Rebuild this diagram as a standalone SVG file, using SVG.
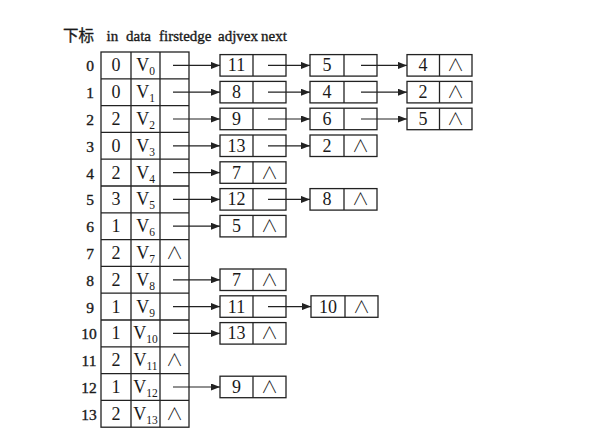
<svg xmlns="http://www.w3.org/2000/svg" width="604" height="446" viewBox="0 0 604 446">
<style>
  .t{font-family:"Liberation Serif","Noto Sans CJK SC",serif;fill:#1a1a1a}
  .hd{font-size:15px;stroke:#1a1a1a;stroke-width:0.35}
  .cn{font-size:15.5px}
  .ix{font-size:15.5px;stroke:#1a1a1a;stroke-width:0.35;text-anchor:middle}
  .v{font-size:18px;text-anchor:middle}
  .sub{font-size:11.5px}
  .nl{font-family:"Noto Sans CJK SC","DejaVu Sans",sans-serif;font-size:17px;font-weight:300;text-anchor:middle;fill:#1a1a1a}
  .box{fill:none;stroke:#222;stroke-width:1.3}
  .ln{stroke:#222;stroke-width:1.3;fill:none}
  .arr{stroke:#222;stroke-width:1.2;fill:none;marker-end:url(#ah)}
</style>
<defs>
  <marker id="ah" markerUnits="userSpaceOnUse" markerWidth="9" markerHeight="7" refX="9" refY="3.5" orient="auto">
    <path d="M0,0 L9,3.5 L0,7 z" fill="#222"/>
  </marker>
</defs>
<rect width="604" height="446" fill="#fff"/>

<g id="header" class="t hd">
  <text class="cn" x="63" y="41">下标</text>
  <text x="106.5" y="41">in</text>
  <text x="126" y="41">data</text>
  <text x="159" y="41">firstedge</text>
  <text x="218" y="41">adjvex</text>
  <text x="261" y="41">next</text>
</g>

<g id="table">
  <rect class="box" x="101" y="52" width="88" height="375.2"/>
  <path class="ln" d="M131,52V427.2M160,52V427.2M101,78.8H189M101,105.6H189M101,132.4H189M101,159.2H189M101,186H189M101,212.8H189M101,239.6H189M101,266.4H189M101,293.2H189M101,320H189M101,346.8H189M101,373.6H189M101,400.4H189"/>
</g>

<g id="v0" class="t"><text class="ix" x="90" y="71.4">0</text><text class="v" x="116" y="71.4">0</text><text class="v" x="145.5" y="71.4">V<tspan class="sub" dy="4">0</tspan></text></g>
<g id="v1" class="t"><text class="ix" x="90" y="98.2">1</text><text class="v" x="116" y="98.2">0</text><text class="v" x="145.5" y="98.2">V<tspan class="sub" dy="4">1</tspan></text></g>
<g id="v2" class="t"><text class="ix" x="90" y="125">2</text><text class="v" x="116" y="125">2</text><text class="v" x="145.5" y="125">V<tspan class="sub" dy="4">2</tspan></text></g>
<g id="v3" class="t"><text class="ix" x="90" y="151.8">3</text><text class="v" x="116" y="151.8">0</text><text class="v" x="145.5" y="151.8">V<tspan class="sub" dy="4">3</tspan></text></g>
<g id="v4" class="t"><text class="ix" x="90" y="178.6">4</text><text class="v" x="116" y="178.6">2</text><text class="v" x="145.5" y="178.6">V<tspan class="sub" dy="4">4</tspan></text></g>
<g id="v5" class="t"><text class="ix" x="90" y="205.4">5</text><text class="v" x="116" y="205.4">3</text><text class="v" x="145.5" y="205.4">V<tspan class="sub" dy="4">5</tspan></text></g>
<g id="v6" class="t"><text class="ix" x="90" y="232.2">6</text><text class="v" x="116" y="232.2">1</text><text class="v" x="145.5" y="232.2">V<tspan class="sub" dy="4">6</tspan></text></g>
<g id="v7" class="t"><text class="ix" x="90" y="259">7</text><text class="v" x="116" y="259">2</text><text class="v" x="145.5" y="259">V<tspan class="sub" dy="4">7</tspan></text><text class="nl" x="174.5" y="259">∧</text></g>
<g id="v8" class="t"><text class="ix" x="90" y="285.8">8</text><text class="v" x="116" y="285.8">2</text><text class="v" x="145.5" y="285.8">V<tspan class="sub" dy="4">8</tspan></text></g>
<g id="v9" class="t"><text class="ix" x="90" y="312.6">9</text><text class="v" x="116" y="312.6">1</text><text class="v" x="145.5" y="312.6">V<tspan class="sub" dy="4">9</tspan></text></g>
<g id="v10" class="t"><text class="ix" x="89" y="339.4">10</text><text class="v" x="116" y="339.4">1</text><text class="v" x="145.5" y="339.4">V<tspan class="sub" dy="4">10</tspan></text></g>
<g id="v11" class="t"><text class="ix" x="89" y="366.2">11</text><text class="v" x="116" y="366.2">2</text><text class="v" x="145.5" y="366.2">V<tspan class="sub" dy="4">11</tspan></text><text class="nl" x="174.5" y="366.2">∧</text></g>
<g id="v12" class="t"><text class="ix" x="89" y="393">12</text><text class="v" x="116" y="393">1</text><text class="v" x="145.5" y="393">V<tspan class="sub" dy="4">12</tspan></text></g>
<g id="v13" class="t"><text class="ix" x="89" y="419.8">13</text><text class="v" x="116" y="419.8">2</text><text class="v" x="145.5" y="419.8">V<tspan class="sub" dy="4">13</tspan></text><text class="nl" x="174.5" y="419.8">∧</text></g>

<g id="e0a"><rect class="box" x="220" y="54.6" width="66" height="21.5"/><path class="ln" d="M253,54.6v21.5"/><text class="t v" x="236.5" y="71.4">11</text></g>
<g id="e0b"><rect class="box" x="310" y="54.6" width="67" height="21.5"/><path class="ln" d="M344,54.6v21.5"/><text class="t v" x="327" y="71.4">5</text></g>
<g id="e0c"><rect class="box" x="407" y="54.6" width="65" height="21.5"/><path class="ln" d="M439.5,54.6v21.5"/><text class="t v" x="423" y="71.4">4</text><text class="nl" x="455.5" y="71.4">∧</text></g>

<g id="e1a"><rect class="box" x="220" y="81.4" width="66" height="21.5"/><path class="ln" d="M253,81.4v21.5"/><text class="t v" x="236.5" y="98.2">8</text></g>
<g id="e1b"><rect class="box" x="310" y="81.4" width="67" height="21.5"/><path class="ln" d="M344,81.4v21.5"/><text class="t v" x="327" y="98.2">4</text></g>
<g id="e1c"><rect class="box" x="407" y="81.4" width="65" height="21.5"/><path class="ln" d="M439.5,81.4v21.5"/><text class="t v" x="423" y="98.2">2</text><text class="nl" x="455.5" y="98.2">∧</text></g>

<g id="e2a"><rect class="box" x="220" y="108.2" width="66" height="21.5"/><path class="ln" d="M253,108.2v21.5"/><text class="t v" x="236.5" y="125">9</text></g>
<g id="e2b"><rect class="box" x="310" y="108.2" width="67" height="21.5"/><path class="ln" d="M344,108.2v21.5"/><text class="t v" x="327" y="125">6</text></g>
<g id="e2c"><rect class="box" x="407" y="108.2" width="65" height="21.5"/><path class="ln" d="M439.5,108.2v21.5"/><text class="t v" x="423" y="125">5</text><text class="nl" x="455.5" y="125">∧</text></g>

<g id="e3a"><rect class="box" x="220" y="135" width="66" height="21.5"/><path class="ln" d="M253,135v21.5"/><text class="t v" x="236.5" y="151.8">13</text></g>
<g id="e3b"><rect class="box" x="310" y="135" width="67" height="21.5"/><path class="ln" d="M344,135v21.5"/><text class="t v" x="327" y="151.8">2</text><text class="nl" x="360.5" y="151.8">∧</text></g>

<g id="e4a"><rect class="box" x="220" y="161.8" width="66" height="21.5"/><path class="ln" d="M253,161.8v21.5"/><text class="t v" x="236.5" y="178.6">7</text><text class="nl" x="269.5" y="178.6">∧</text></g>

<g id="e5a"><rect class="box" x="220" y="188.6" width="66" height="21.5"/><path class="ln" d="M253,188.6v21.5"/><text class="t v" x="236.5" y="205.4">12</text></g>
<g id="e5b"><rect class="box" x="310" y="188.6" width="67" height="21.5"/><path class="ln" d="M344,188.6v21.5"/><text class="t v" x="327" y="205.4">8</text><text class="nl" x="360.5" y="205.4">∧</text></g>

<g id="e6a"><rect class="box" x="220" y="215.4" width="66" height="21.5"/><path class="ln" d="M253,215.4v21.5"/><text class="t v" x="236.5" y="232.2">5</text><text class="nl" x="269.5" y="232.2">∧</text></g>

<g id="e8a"><rect class="box" x="220" y="269" width="66" height="21.5"/><path class="ln" d="M253,269v21.5"/><text class="t v" x="236.5" y="285.8">7</text><text class="nl" x="269.5" y="285.8">∧</text></g>

<g id="e9a"><rect class="box" x="220" y="295.8" width="66" height="21.5"/><path class="ln" d="M253,295.8v21.5"/><text class="t v" x="236.5" y="312.6">11</text></g>
<g id="e9b"><rect class="box" x="311" y="295.8" width="67" height="21.5"/><path class="ln" d="M345,295.8v21.5"/><text class="t v" x="328" y="312.6">10</text><text class="nl" x="361.5" y="312.6">∧</text></g>

<g id="e10a"><rect class="box" x="220" y="322.6" width="66" height="21.5"/><path class="ln" d="M253,322.6v21.5"/><text class="t v" x="236.5" y="339.4">13</text><text class="nl" x="269.5" y="339.4">∧</text></g>

<g id="e12a"><rect class="box" x="220" y="376.2" width="66" height="21.5"/><path class="ln" d="M253,376.2v21.5"/><text class="t v" x="236.5" y="393">9</text><text class="nl" x="269.5" y="393">∧</text></g>

<g id="connectors">
  <path class="arr" d="M173,65.4H220"/>
  <path class="arr" d="M173,92.2H220"/>
  <path class="arr" d="M173,119H220"/>
  <path class="arr" d="M173,145.8H220"/>
  <path class="arr" d="M173,172.6H220"/>
  <path class="arr" d="M173,199.4H220"/>
  <path class="arr" d="M173,226.2H220"/>
  <path class="arr" d="M173,279.8H220"/>
  <path class="arr" d="M173,306.6H220"/>
  <path class="arr" d="M173,333.4H220"/>
  <path class="arr" d="M173,387H220"/>
  <path class="arr" d="M268,65.4H310"/>
  <path class="arr" d="M268,92.2H310"/>
  <path class="arr" d="M268,119H310"/>
  <path class="arr" d="M268,145.8H310"/>
  <path class="arr" d="M268,199.4H310"/>
  <path class="arr" d="M268,306.6H311"/>
  <path class="arr" d="M361,65.4H407"/>
  <path class="arr" d="M361,92.2H407"/>
  <path class="arr" d="M361,119H407"/>
</g>
</svg>
